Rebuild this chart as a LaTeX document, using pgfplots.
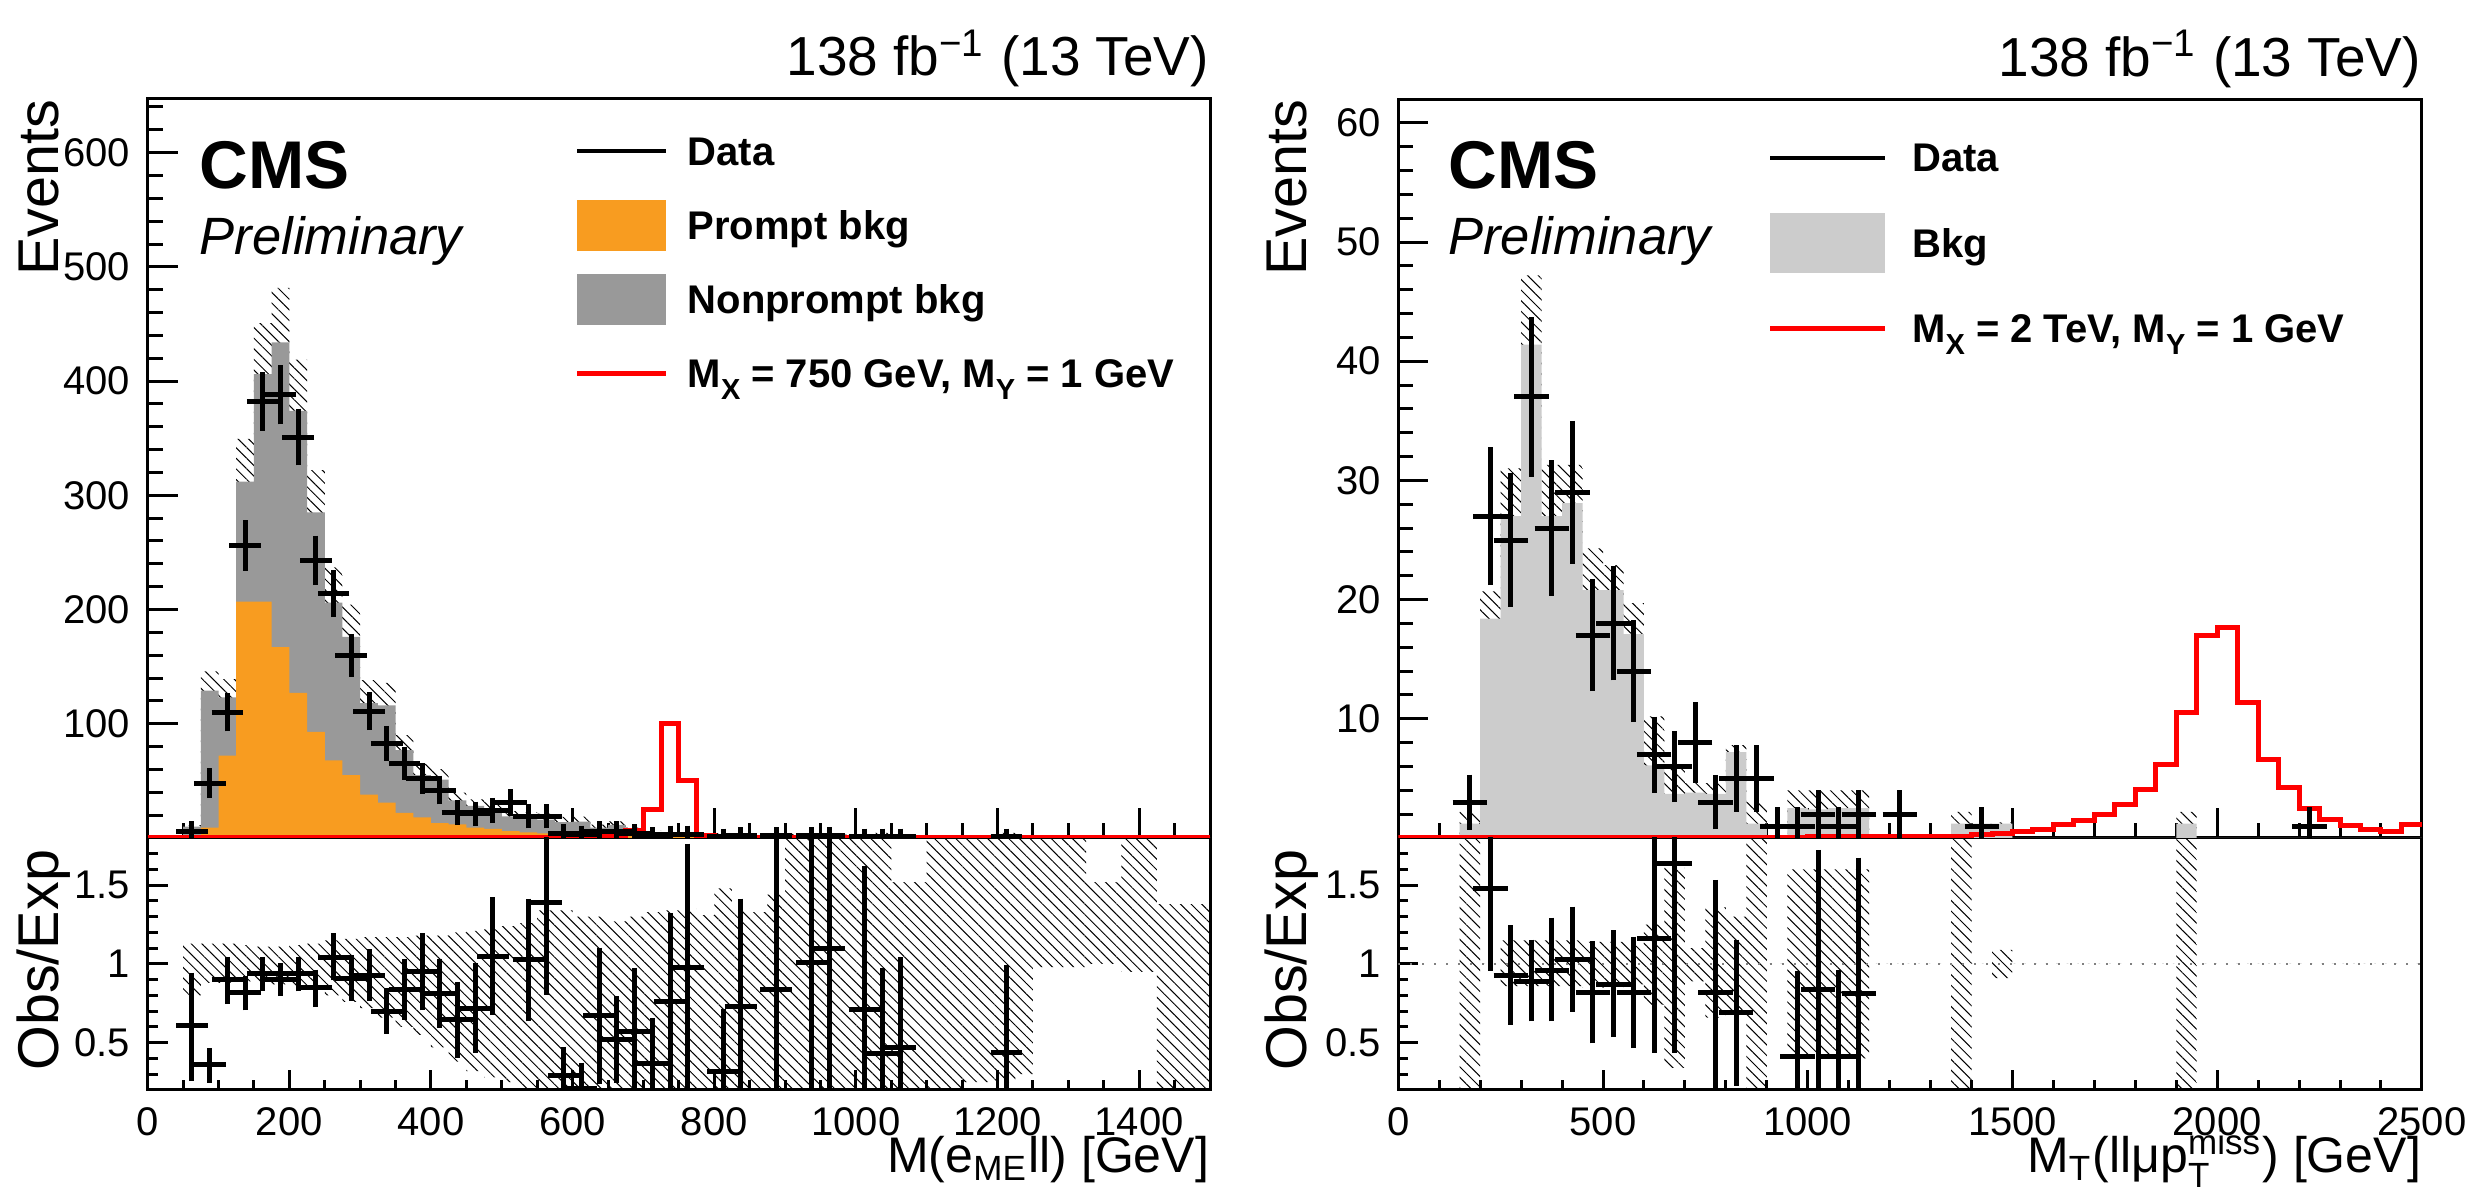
\documentclass[border=0pt]{standalone}
\usepackage{fontspec}
\setmainfont{Liberation Sans}
\usepackage{amsmath}
\usepackage{pgfplots}
\pgfplotsset{compat=1.18}
\usepackage{pgfplotstable}
\usepgfplotslibrary{fillbetween}
\usetikzlibrary{patterns.meta}

\definecolor{cmsorange}{HTML}{F89C20}
\definecolor{npgrey}{HTML}{999999}
\definecolor{bkggrey}{HTML}{CCCCCC}

\newcommand{\lsub}[1]{\raisebox{-0.3em}[0pt][0pt]{\fontsize{5.8}{6}\selectfont #1}}

\pgfplotsset{
  base/.style={scale only axis, axis line style={line width=0.6pt},
    tick style={line width=0.6pt, black}, tick align=inside, tick pos=left,
    tick label style={font=\fontsize{8}{9.6}\selectfont},
    /pgf/number format/assume math mode=true, /pgf/number format/1000 sep={}},
  hatch/.style={draw=none, pattern={Lines[angle=-45,distance=1.5pt,line width=0.2pt]}, pattern color=black},
  datapts/.style={draw=none, mark=none, forget plot,
    error bars/.cd, x dir=both, x fixed=#1, y dir=both, y explicit,
    error bar style={draw=black, line width=1pt},
    error mark options={draw=black, line width=1pt, mark size=1.4pt}},
}

% ---------- LEFT PANEL ----------
% x = bin left edge, T = total bkg, P = prompt bkg, up/lo = uncertainty band
\pgfplotstableread{
x T P up lo
50 10 2 11.3 8
75 129 9 145.8 113.5
100 123 72 139 108.2
125 312 207 349.4 277.7
150 406 207 450.7 357.3
175 434 167 481.7 377.6
200 374 127 418.9 321.6
225 285 93 322 239.4
250 206 68 236.9 164.8
275 176 55 204.2 133.8
300 118 38 138.1 85
325 116 31 135.7 76.6
350 77 22 90.1 46.2
375 55 18 64.9 30.3
400 51 13 60.2 24
425 33 12 39.6 12.5
450 28 9 33.9 9
475 26 8 31.7 7.3
500 19 6 23.6 4.8
525 18 5 22.7 3.6
550 16 4 21.4 3.2
575 13.8 4 18.5 1.4
600 14.3 3 18.6 1.4
625 9 3 11.7 0.9
650 11.5 2.5 14.6 1.2
675 7 2 9.1 0.7
700 4.8 1.5 6.4 0.5
725 3.8 1.2 5.1 0.4
750 3.1 1 4.2 0.3
775 2.5 1 3.3 0.25
800 2.9 0.8 4.3 0.3
825 2.7 0.8 3.6 0.3
850 2 0.6 2.7 0.2
875 2.35 0.6 3.4 0.2
900 1.8 0.5 3.6 0.2
925 2 0.5 4 0.2
950 1.8 0.5 3.6 0.2
975 1.5 0.4 3 0.15
1000 1.4 0.4 2.8 0.14
1025 2.2 0.4 4.4 0.2
1050 2.1 0.3 3.2 0.2
1075 1 0.3 1.5 0.1
1100 1 0.3 1.5 0.1
1125 1.2 0.3 1.8 0.1
1150 1 0.2 2 0.25
1175 0.8 0.2 1.6 0.2
1200 2.2 0.2 4.4 0.6
1225 0.8 0.2 1.6 0.25
1250 0.6 0.2 1.2 0.6
1275 0.5 0.1 1.0 0.5
1325 0.5 0.1 0.76 0.5
1375 0.5 0.1 1.0 0.47
1425 0.5 0.1 0.7 0.05
1500 0.5 0.1 0.7 0.05
}\lefttab

\pgfplotstableread{
x hi lo
50 1.13 0.80
75 1.13 0.88
100 1.13 0.88
125 1.12 0.89
150 1.11 0.88
175 1.11 0.87
200 1.12 0.86
225 1.13 0.84
250 1.15 0.80
275 1.16 0.76
300 1.17 0.72
325 1.17 0.66
350 1.17 0.60
375 1.18 0.55
400 1.18 0.47
425 1.20 0.38
450 1.21 0.32
475 1.22 0.28
500 1.24 0.25
525 1.26 0.15
550 1.34 0.15
575 1.34 0.1
600 1.30 0.1
625 1.30 0.1
650 1.27 0.1
675 1.30 0.1
700 1.33 0.1
725 1.34 0.1
750 1.35 0.1
775 1.31 0.1
800 1.48 0.1
825 1.35 0.1
850 1.33 0.1
875 1.44 0.1
900 2 0.1
1050 1.52 0.1
1100 2 0.1
1150 2 0.25
1225 2 0.3
1250 2 0.98
1325 1.52 1.0
1375 2 0.95
1425 1.38 0.1
1500 1.38 0.1
}\leftratioband

\pgfplotstableread{
x N e
62.5 6 2.4
87.5 48 6.9
112.5 110 10.5
137.5 256 16
162.5 382 19.5
187.5 388 19.7
212.5 351 18.7
237.5 243 15.6
262.5 214 14.6
287.5 160 12.6
312.5 111 10.5
337.5 83 9.1
362.5 65 8.1
387.5 52 7.2
412.5 42 6.5
437.5 22 4.7
462.5 21 4.6
487.5 24 4.9
512.5 31 5.6
537.5 19 4.4
562.5 19 4.4
587.5 4 2
612.5 3 1.7
637.5 6 2.4
662.5 6 2.4
687.5 4 2
712.5 2 1.4
737.5 3 1.7
762.5 3 1.7
812.5 1 1
837.5 2 1.4
887.5 2 1.4
937.5 2 1.4
962.5 2 1.4
1012.5 1 1
1037.5 1 1
1062.5 1 1
1212.5 1 1
}\leftdata

\pgfplotstableread{
x r em ep
62.5 0.61 0.31 0.29
87.5 0.36 0.07 0.06
112.5 0.90 0.11 0.10
137.5 0.82 0.07 0.06
162.5 0.94 0.07 0.06
187.5 0.90 0.06 0.06
212.5 0.94 0.07 0.06
237.5 0.85 0.08 0.07
262.5 1.04 0.10 0.11
287.5 0.91 0.10 0.10
312.5 0.93 0.12 0.12
337.5 0.70 0.10 0.10
362.5 0.84 0.15 0.15
387.5 0.95 0.20 0.20
412.5 0.81 0.17 0.18
437.5 0.65 0.20 0.19
462.5 0.72 0.24 0.24
487.5 1.05 0.33 0.33
537.5 1.03 0.35 0.34
562.5 1.39 0.54 0.6
587.5 0.29 0.14 0.14
612.5 0.21 0.12 0.12
637.5 0.67 0.39 0.39
662.5 0.52 0.23 0.23
687.5 0.57 0.47 0.36
712.5 0.37 0.37 0.24
737.5 0.76 0.66 0.52
762.5 0.98 0.74 0.74
812.5 0.32 0.32 0.35
837.5 0.73 0.73 0.64
887.5 0.84 0.84 1.2
937.5 1.01 1.01 1.2
962.5 1.10 1.1 1.2
1012.5 0.71 0.71 0.87
1037.5 0.43 0.43 0.50
1062.5 0.47 0.47 0.53
1212.5 0.44 0.44 0.51
}\leftratio

\pgfplotstableread{
x s
0 0
575 0.5
600 1
625 1.5
650 2.5
675 6.8
700 25
725 100
750 50
775 2
800 1
825 0.4
850 0
1500 0
}\leftsig

% ---------- RIGHT PANEL ----------
\pgfplotstableread{
x B up lo
150 1.2 2.2 0.3
200 18.4 20.7 15.9
250 27 31 23
300 41.4 47.2 35.6
350 27 31.3 22.7
400 28.1 31.3 24.9
450 20.8 24.3 17.3
500 20.8 22.9 18.7
550 17.1 19.7 14.5
600 6.1 10.2 4.2
650 3.7 6.2 1.7
700 3.8 4.6 1.3
750 3.7 4.6 1.3
800 7.2 7.8 3
850 1.2 3 0.2
900 0 0 0
950 2.5 4 1
1000 2.4 4 1
1050 2.5 4 1
1100 2.5 4 1
1150 0 0 0
1350 1.2 2.2 0.24
1400 1.2 1.2 1.2
1450 1.2 1.3 1.1
1500 0 0 0
1900 1.2 2.2 0.24
1950 0 0 0
2500 0 0 0
}\righttab

\pgfplotstableread{
x hi lo
150 2 0
200 1 1
250 1.15 0.86
450 1.14 0.85
550 1.13 0.87
600 1.25 0.74
650 1.61 0.34
700 1.1 0.89
750 1.36 0.66
800 1.3 0.68
850 2 0
900 1 1
950 1.6 0.4
1150 1 1
1350 2 0
1400 1 1
1450 1.09 0.91
1500 1 1
1900 2 0
1950 1 1
2500 1 1
}\rightratioband

\pgfplotstableread{
x N e
175 3 1.73
225 27 5.2
275 25 5
325 37 6.1
375 26 5.1
425 29 5.4
475 17 4.1
525 18 4.2
575 14 3.7
625 7 2.6
675 6 2.4
725 8 2.8
775 3 1.7
825 5 2.2
875 5 2.2
925 1 1
975 1 1
1025 2 1.4
1075 1 1
1125 2 1.4
1225 2 1.4
1425 1 1
2225 1 1
}\rightdata

\pgfplotstableread{
x r em ep
225 1.48 0.48 0.6
275 0.93 0.27 0.27
325 0.89 0.21 0.22
375 0.96 0.28 0.29
425 1.03 0.29 0.29
475 0.82 0.28 0.28
525 0.87 0.29 0.30
575 0.82 0.31 0.31
625 1.16 0.68 0.8
675 1.64 1.16 0.5
775 0.82 0.7 0.67
825 0.69 0.42 0.42
975 0.41 0.5 0.50
1025 0.84 0.8 0.84
1075 0.41 0.5 0.51
1125 0.81 0.8 0.82
}\rightratio

\pgfplotstableread{
x s
0 0.05
500 0.08
1000 0.15
1400 0.25
1450 0.4
1500 0.54
1550 0.69
1600 1.1
1650 1.47
1700 1.95
1750 2.8
1800 4.08
1850 6.2
1900 10.5
1950 17.0
2000 17.7
2050 11.4
2100 6.6
2150 4.2
2200 2.44
2250 1.59
2300 1.02
2350 0.73
2400 0.53
2450 1.1
2500 1.1
}\rightsig

\begin{document}
\begin{tikzpicture}

% ================= LEFT MAIN =================
\begin{axis}[base, at={(29.54pt,72pt)}, anchor=south west,
  width=212.46pt, height=147.8pt,
  xmin=0, xmax=1500, ymin=0, ymax=647,
  xtick={0,200,...,1400}, minor xtick={50,100,...,1500}, xticklabels={},
  ytick={100,200,...,600}, minor ytick={20,40,...,640},
  major tick length=6pt, minor tick length=3pt,
  legend cell align=left,
  legend style={at={(0.402,0.9635)}, anchor=north west, draw=none, fill=none,
    inner sep=0pt, outer sep=0pt, row sep=4.6pt, column sep=3.8pt,
    font=\bfseries\fontsize{8}{9.6}\selectfont,
    nodes={inner sep=0pt, text height=5.8pt, text depth=0.2pt}},
  after end axis/.code={
    \node[anchor=base east, inner sep=0pt, font=\fontsize{11}{13}\selectfont] at ([yshift=4.6pt]rel axis cs:1,1) {138 fb\textsuperscript{−1} (13 TeV)};
    \node[rotate=90, anchor=base east, inner sep=0pt, font=\fontsize{11.5}{13}\selectfont] at ([xshift=-17.9pt]rel axis cs:0,1) {Events};
  }]
\addlegendimage{legend image code/.code={\path[draw=none,fill=none] (0pt,-5.1pt) rectangle (17.8pt,5.1pt); \draw[black,line width=0.8pt] (0pt,0pt) -- (17.8pt,0pt);}}
\addlegendentry{Data}
\addlegendimage{legend image code/.code={\fill[cmsorange,draw=none] (0pt,-5.1pt) rectangle (17.8pt,5.1pt);}}
\addlegendentry{Prompt bkg}
\addlegendimage{legend image code/.code={\fill[npgrey,draw=none] (0pt,-5.1pt) rectangle (17.8pt,5.1pt);}}
\addlegendentry{Nonprompt bkg}
\addlegendimage{legend image code/.code={\path[draw=none,fill=none] (0pt,-5.1pt) rectangle (17.8pt,5.1pt); \draw[red,line width=1pt] (0pt,0pt) -- (17.8pt,0pt);}}
\addlegendentry{M\lsub{X} = 750 GeV, M\lsub{Y} = 1 GeV}
\addlegendimage{legend image code/.code={\path[draw=none,fill=none] (0pt,-5.1pt) rectangle (17.8pt,5.1pt);}}
\addlegendentry{}

\addplot[const plot, fill=npgrey, draw=none, forget plot] table[x=x,y=T]{\lefttab} \closedcycle;
\addplot[const plot, fill=cmsorange, draw=none, forget plot] table[x=x,y=P]{\lefttab} \closedcycle;
\addplot[const plot, draw=none, name path=LU, forget plot] table[x=x,y=up]{\lefttab};
\addplot[const plot, draw=none, name path=LL, forget plot] table[x=x,y=lo]{\lefttab};
\addplot[hatch, forget plot] fill between[of=LU and LL];
\addplot[const plot, red, line width=1pt, forget plot] table[x=x,y=s]{\leftsig};
\addplot[datapts=12.5] table[x=x,y=N,y error=e]{\leftdata};

\node[anchor=base west, inner sep=0pt, font=\bfseries\fontsize{13.5}{15}\selectfont] at (rel axis cs:0.048,0.879) {CMS};
\node[anchor=base west, inner sep=0pt, font=\itshape\fontsize{10.5}{12}\selectfont] at (rel axis cs:0.048,0.790) {Preliminary};
\end{axis}

% ================= LEFT RATIO =================
\begin{axis}[base, at={(29.54pt,21.6pt)}, anchor=south west,
  width=212.46pt, height=50.4pt,
  xmin=0, xmax=1500, ymin=0.2, ymax=1.8,
  xtick={0,200,...,1400}, minor xtick={50,100,...,1500},
  ytick={0.5,1,1.5}, minor ytick={0.3,0.4,0.6,0.7,0.8,0.9,1.1,1.2,1.3,1.4,1.6,1.7},
  major tick length=4pt, minor tick length=2pt,
  after end axis/.code={
    \node[rotate=90, anchor=base east, inner sep=0pt, font=\fontsize{11.5}{13}\selectfont] at ([xshift=-17.9pt,yshift=-2.2pt]rel axis cs:0,1) {Obs/Exp};
    \node[anchor=base east, inner sep=0pt, font=\fontsize{10}{12}\selectfont] at ([yshift=-16.6pt]rel axis cs:1,0) {M(e\textsubscript{ME}ll) [GeV]};
  }]
\addplot[const plot, draw=none, name path=RU, forget plot] table[x=x,y=hi]{\leftratioband};
\addplot[const plot, draw=none, name path=RL, forget plot] table[x=x,y=lo]{\leftratioband};
\addplot[hatch, forget plot] fill between[of=RU and RL];
\addplot[datapts=12.5] table[x=x,y=r,y error plus=ep,y error minus=em]{\leftratio};
\end{axis}

% ================= RIGHT MAIN =================
\begin{axis}[base, at={(279.66pt,72pt)}, anchor=south west,
  width=204.72pt, height=147.8pt,
  xmin=0, xmax=2500, ymin=0, ymax=62,
  xtick={0,500,...,2500}, minor xtick={100,200,...,2500}, xticklabels={},
  ytick={10,20,...,60}, minor ytick={2,4,...,62},
  major tick length=6pt, minor tick length=3pt,
  legend cell align=left,
  legend style={at={(0.361,0.9614)}, anchor=north west, draw=none, fill=none,
    inner sep=0pt, outer sep=0pt, row sep=5.1pt, column sep=5pt,
    font=\bfseries\fontsize{8}{9.6}\selectfont,
    nodes={inner sep=0pt, text height=5.8pt, text depth=0.2pt}},
  after end axis/.code={
    \node[anchor=base east, inner sep=0pt, font=\fontsize{11}{13}\selectfont] at ([yshift=4.6pt]rel axis cs:1,1) {138 fb\textsuperscript{−1} (13 TeV)};
    \node[rotate=90, anchor=base east, inner sep=0pt, font=\fontsize{11.5}{13}\selectfont] at ([xshift=-18.4pt]rel axis cs:0,1) {Events};
  }]
\addlegendimage{legend image code/.code={\path[draw=none,fill=none] (0pt,-6pt) rectangle (22.9pt,6pt); \draw[black,line width=0.8pt] (0pt,0pt) -- (22.9pt,0pt);}}
\addlegendentry{Data}
\addlegendimage{legend image code/.code={\fill[bkggrey,draw=none] (0pt,-6pt) rectangle (22.9pt,6pt);}}
\addlegendentry{Bkg}
\addlegendimage{legend image code/.code={\path[draw=none,fill=none] (0pt,-6pt) rectangle (22.9pt,6pt); \draw[red,line width=1pt] (0pt,0pt) -- (22.9pt,0pt);}}
\addlegendentry{M\lsub{X} = 2 TeV, M\lsub{Y} = 1 GeV}
\addlegendimage{legend image code/.code={\path[draw=none,fill=none] (0pt,-6pt) rectangle (22.9pt,6pt);}}
\addlegendentry{}

\addplot[const plot, fill=bkggrey, draw=none, forget plot] table[x=x,y=B]{\righttab} \closedcycle;
\addplot[const plot, draw=none, name path=QU, forget plot] table[x=x,y=up]{\righttab};
\addplot[const plot, draw=none, name path=QL, forget plot] table[x=x,y=lo]{\righttab};
\addplot[hatch, forget plot] fill between[of=QU and QL];
\addplot[const plot, red, line width=1pt, forget plot] table[x=x,y=s]{\rightsig};
\addplot[datapts=25] table[x=x,y=N,y error=e]{\rightdata};

\node[anchor=base west, inner sep=0pt, font=\bfseries\fontsize{13.5}{15}\selectfont] at (rel axis cs:0.048,0.879) {CMS};
\node[anchor=base west, inner sep=0pt, font=\itshape\fontsize{10.5}{12}\selectfont] at (rel axis cs:0.048,0.790) {Preliminary};
\end{axis}

% ================= RIGHT RATIO =================
\begin{axis}[base, at={(279.66pt,21.6pt)}, anchor=south west,
  width=204.72pt, height=50.4pt,
  xmin=0, xmax=2500, ymin=0.2, ymax=1.8,
  xtick={0,500,...,2500}, minor xtick={100,200,...,2500},
  ytick={0.5,1,1.5}, minor ytick={0.3,0.4,0.6,0.7,0.8,0.9,1.1,1.2,1.3,1.4,1.6,1.7},
  major tick length=4pt, minor tick length=2pt,
  after end axis/.code={
    \node[rotate=90, anchor=base east, inner sep=0pt, font=\fontsize{11.5}{13}\selectfont] at ([xshift=-18.4pt,yshift=-2.2pt]rel axis cs:0,1) {Obs/Exp};
    \node[anchor=base east, inner sep=0pt, font=\fontsize{10}{12}\selectfont] at ([yshift=-16.6pt]rel axis cs:1,0) {M\textsubscript{T}(llμp$_{\text{T}}^{\text{miss}}$) [GeV]};
  }]
\addplot[gray, dotted, line width=0.4pt, forget plot] coordinates {(0,1) (2500,1)};
\addplot[const plot, draw=none, name path=SU, forget plot] table[x=x,y=hi]{\rightratioband};
\addplot[const plot, draw=none, name path=SL, forget plot] table[x=x,y=lo]{\rightratioband};
\addplot[hatch, forget plot] fill between[of=SU and SL];
\addplot[datapts=25] table[x=x,y=r,y error plus=ep,y error minus=em]{\rightratio};
\end{axis}

\pgfresetboundingbox
\useasboundingbox (0,0) rectangle (497pt,239.6pt);
\end{tikzpicture}
\end{document}
